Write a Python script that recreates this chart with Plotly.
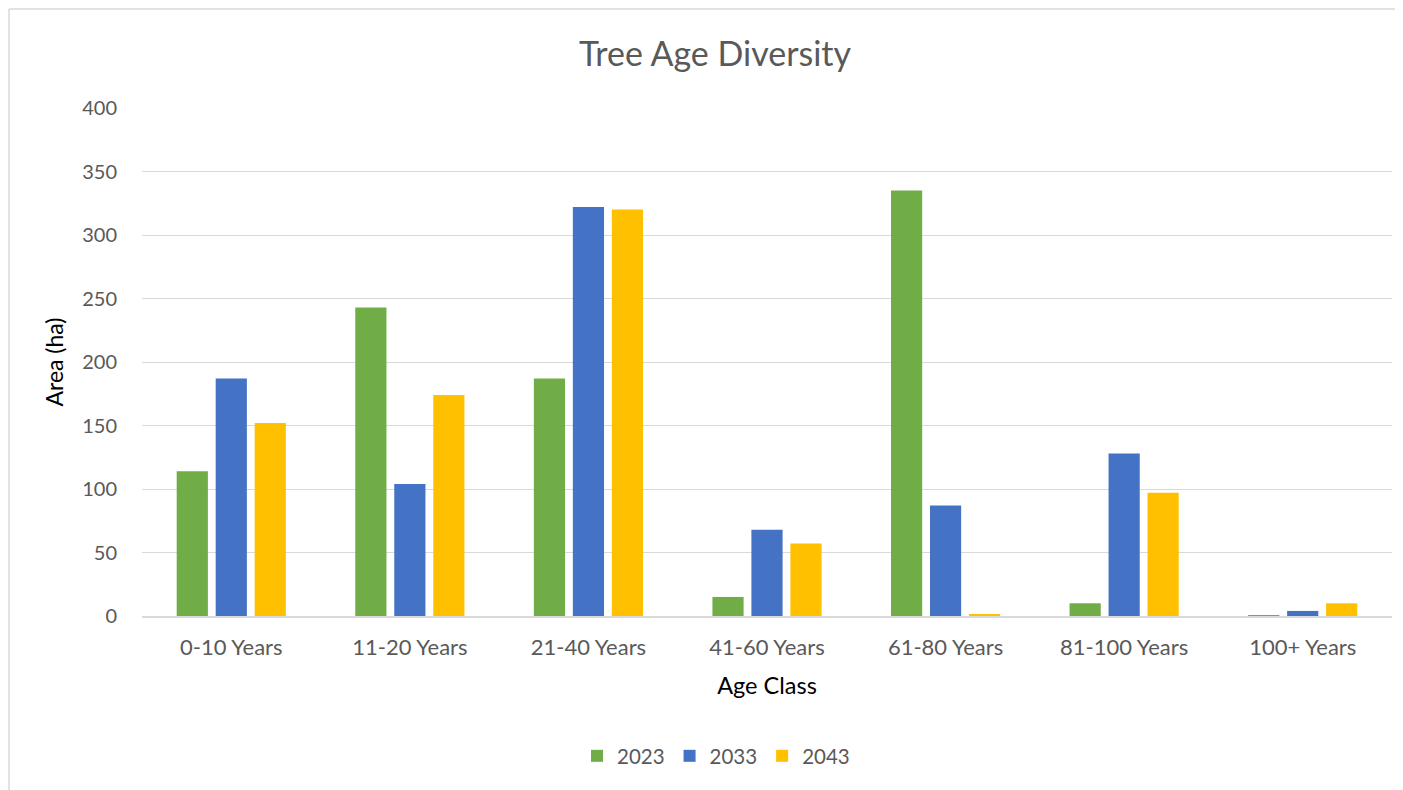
import plotly.graph_objects as go

categories = ["0-10 Years", "11-20 Years", "21-40 Years", "41-60 Years",
              "61-80 Years", "81-100 Years", "100+ Years"]
series_names = ["2023", "2033", "2043"]
values_2023 = [114, 243, 187, 15, 335, 10, 0.6]
values_2033 = [187, 104, 322, 68, 87, 128, 4]
values_2043 = [152, 174, 320, 57, 0.8, 97, 10]
colors = ["#70AD47", "#4472C4", "#FFC000"]
y_ticks = [0, 50, 100, 150, 200, 250, 300, 350, 400]

FONT = "Lato, 'Open Sans', sans-serif"

fig = go.Figure()
for name, vals, col in zip(series_names, [values_2023, values_2033, values_2043], colors):
    fig.add_trace(go.Bar(x=categories, y=vals, name=name, marker_color=col,
                         marker_line_width=0))

# page is rendered with an 8px body margin; figure coordinates = page - 8
W, H = 1395, 782
ml, mr, mt, mb = 134, 11, 100, 174
pw, ph = W - ml - mr, H - mt - mb

def fx(px):
    return (px - ml) / pw

def fy(py):
    return (H - mb - py) / ph

fig.update_layout(
    width=W, height=H,
    margin=dict(l=ml, r=mr, t=mt, b=mb),
    paper_bgcolor="white", plot_bgcolor="white",
    font=dict(family=FONT, color="#595959", size=20),
    title=dict(text="Tree Age Diversity", x=fx(707), xref="paper", xanchor="center",
               y=1 - 46 / H, yanchor="middle", yref="container",
               font=dict(size=34, color="#595959", family=FONT)),
    barmode="group", bargap=0.345, bargroupgap=0.2,
    showlegend=True,
    legend=dict(orientation="h", x=fx(708), xanchor="center", xref="paper",
                y=fy(748), yanchor="middle",
                font=dict(size=20.5, color="#595959"), itemwidth=30,
                traceorder="normal"),
    xaxis=dict(showgrid=False, showline=True, linecolor="#d9d9d9", linewidth=1.5,
               ticks="", ticklabelstandoff=11,
               tickfont=dict(size=22, color="#595959"),
               title=dict(text="Age Class", font=dict(size=23.5, color="black"), standoff=18)),
    yaxis=dict(range=[0, 400], tickvals=y_ticks, showgrid=True, gridcolor="#d9d9d9",
               gridwidth=1, zeroline=False, showline=False, ticks="",
               ticklabelstandoff=24,
               tickfont=dict(size=20, color="#595959"),
               title=dict(text="Area (ha)", font=dict(size=23, color="black"), standoff=12)),
    shapes=[
        dict(type="line", xref="paper", yref="paper",
             x0=fx(1), x1=fx(W), y0=fy(1), y1=fy(1),
             line=dict(color="#d9d9d9", width=1.5), layer="below"),
        dict(type="line", xref="paper", yref="paper",
             x0=fx(1), x1=fx(1), y0=fy(1), y1=fy(H),
             line=dict(color="#d9d9d9", width=1.5), layer="below"),
    ],
)

fig.write_html("out.html")
